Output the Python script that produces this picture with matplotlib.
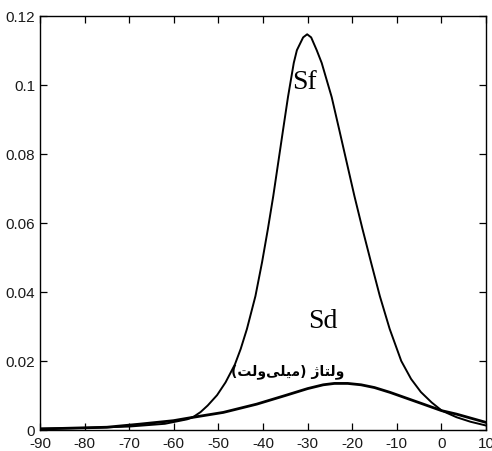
import matplotlib
matplotlib.use("Agg")
import matplotlib.pyplot as plt

plt.rcParams["axes.unicode_minus"] = False

# Sf curve
sf_x = [-90, -80, -70, -62, -57, -55.6, -54, -52.4, -50.3, -48.4, -46.3, -45.0, -43.6,
        -41.7, -40.2, -38.9, -37.7, -36.6, -35.5, -34.4, -33.1, -32.4, -31.0, -30.1,
        -29.2, -27.96, -26.84, -24.6, -22.9, -21.2, -19.5, -17.7, -15.8, -13.8, -11.6,
        -9.0, -6.8, -4.6, -2.2, 0.1, 3.4, 6.5, 10]
sf_y = [0.0004, 0.0006, 0.0010, 0.0018, 0.0031, 0.0038, 0.0052, 0.0071, 0.0101, 0.0138, 0.0190, 0.0235, 0.0293,
        0.0388, 0.0487, 0.0583, 0.0678, 0.0774, 0.0870, 0.0965, 0.1064, 0.1101, 0.1138, 0.1147,
        0.1138, 0.1101, 0.1064, 0.0965, 0.0870, 0.0774, 0.0678, 0.0583, 0.0487, 0.0388, 0.0293,
        0.0200, 0.0148, 0.0110, 0.0080, 0.0056, 0.0037, 0.0024, 0.0013]

# Sd curve
sd_x = [-90, -75, -67.6, -60.1, -55.6, -48.9, -41.4, -35, -30, -26.5, -24, -21,
        -18, -15, -11.5, -4.06, 0.07, 3.4, 10]
sd_y = [0.0003, 0.0008, 0.0017, 0.0027, 0.0037, 0.0051, 0.0075, 0.0100, 0.0120, 0.0131, 0.0135, 0.0135,
        0.0131, 0.0123, 0.0109, 0.0075, 0.0056, 0.0046, 0.0022]

x_ticks = [-90, -80, -70, -60, -50, -40, -30, -20, -10, 0, 10]
y_ticks = [0, 0.02, 0.04, 0.06, 0.08, 0.1, 0.12]
y_tick_labels = ["0", "0.02", "0.04", "0.06", "0.08", "0.1", "0.12"]

# Persian label "ولتاژ (میلی‌ولت)" written in visual order with presentation forms
persian_label = "(\uFE96\uFEDF\uFEED\uFEF0\uFEE0\uFEF4\uFEE3) \uFB8A\uFE8E\uFE98\uFEDF\uFEED"

fig = plt.figure(figsize=(4.92, 4.52), dpi=100)
ax = fig.add_axes([40/492, 21/452, 446/492, 414/452])

ax.plot(sf_x, sf_y, color="black", lw=1.4, solid_joinstyle="round")
ax.plot(sd_x, sd_y, color="black", lw=2.0, solid_joinstyle="round")

ax.set_xlim(-90, 10)
ax.set_ylim(0, 0.12)
ax.set_xticks(x_ticks)
ax.set_yticks(y_ticks)
ax.set_yticklabels(y_tick_labels)

tick_font = ["Liberation Sans", "DejaVu Sans"]
for lab in ax.get_xticklabels() + ax.get_yticklabels():
    lab.set_family(tick_font)
    lab.set_fontsize(11)
    lab.set_color("#1a1a1a")

ax.tick_params(direction="in", length=5, width=0.9, top=True, right=True)
ax.tick_params(axis="y", pad=3.5)
ax.tick_params(axis="x", pad=4.5)
for s in ax.spines.values():
    s.set_linewidth(1.0)

ax.text(-30.6, 0.101, "Sf", family=["Liberation Serif", "DejaVu Serif"], fontsize=20,
        ha="center", va="center")
ax.text(-26.5, 0.0316, "Sd", family=["Liberation Serif", "DejaVu Serif"], fontsize=20,
        ha="center", va="center")
ax.text(-34.4, 0.0171, persian_label, family=["DejaVu Sans"], fontweight="bold",
        fontsize=10, ha="center", va="center")

fig.savefig("out.png", dpi=100)
